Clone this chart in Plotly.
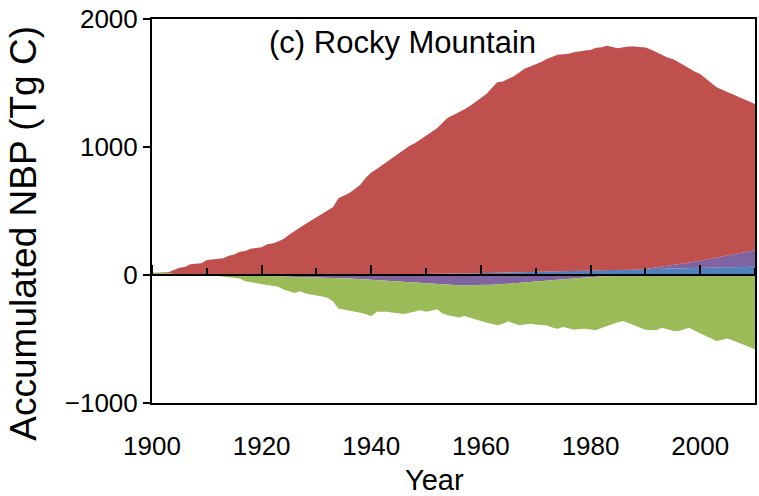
import plotly.graph_objects as go

# Accumulated net biome production contributions, Rocky Mountain region (Tg C)
years = list(range(1900, 2011))

red = [
    0, 0, 0, 7, 32, 54, 62, 84, 88, 91,                      # 1900s
    118, 122, 126, 130, 150, 160, 182, 188, 206, 210,        # 1910s
    216, 240, 246, 262, 281, 315, 346, 372, 398, 425,        # 1920s
    450, 476, 500, 529, 600, 620, 640, 672, 705, 760,        # 1930s
    799, 826, 855, 881, 910, 940, 972, 1004, 1024, 1053,     # 1940s
    1085, 1112, 1137, 1181, 1221, 1240, 1259, 1283, 1307, 1335,  # 1950s
    1365, 1398, 1443, 1488, 1494, 1513, 1533, 1563, 1593, 1607,  # 1960s
    1623, 1642, 1663, 1680, 1695, 1698, 1701, 1712, 1721, 1724,  # 1970s
    1726, 1743, 1747, 1757, 1747, 1734, 1742, 1746, 1743, 1739,  # 1980s
    1732, 1710, 1687, 1657, 1631, 1611, 1582, 1550, 1512, 1486,  # 1990s
    1459, 1416, 1373, 1331, 1305, 1279, 1250, 1224, 1199, 1170,  # 2000s
    1142,
]

green = [
    18, 18, 18, 15, 8, 3, 0, 0, 0, 0,
    -2, -5, -8, -12, -18, -23, -25, -44, -51, -58,
    -65, -72, -77, -82, -102, -116, -127, -113, -130, -136,
    -141, -149, -158, -183, -238, -245, -248, -255, -261, -269,
    -283, -246, -243, -240, -244, -247, -248, -236, -223, -210,
    -220, -207, -194, -223, -236, -242, -252, -239, -254, -265,
    -280, -293, -305, -318, -308, -293, -312, -331, -327, -325,
    -335, -345, -350, -369, -382, -373, -386, -402, -401, -401,
    -410, -419, -404, -390, -380, -367, -358, -375, -393, -410,
    -427, -430, -432, -413, -425, -435, -440, -425, -413, -435,
    -455, -475, -498, -515, -505, -497, -512, -528, -545, -565,
    -580,
]

purple = [
    0, 0, 0, 0, 0, 0, 0, 0, 0, 0,
    0, 0, 0, 0, 0, -2, -3, -4, -5, -6,
    -7, -8, -9, -10, -11, -12, -13, -14, -15, -16,
    -17, -19, -20, -22, -24, -25, -27, -30, -33, -36,
    -39, -42, -45, -48, -51, -53, -56, -59, -62, -65,
    -68, -71, -74, -77, -79, -80, -81, -81, -81, -81,
    -80, -79, -77, -75, -72, -69, -66, -62, -59, -55,
    -51, -48, -45, -41, -37, -33, -29, -25, -21, -18,
    -15, -13, -11, -8, -5, -3, -1, 0, 0, 0,
    1, 6, 10, 15, 20, 26, 32, 38, 44, 50,
    56, 63, 70, 77, 84, 91, 99, 106, 114, 122,
    130,
]

blue = [0] * 40 + [
    1, 2, 3, 4, 5, 5, 6, 6, 7, 7,
    8, 8, 9, 9, 10, 10, 11, 12, 13, 14,
    15, 16, 17, 17, 18, 19, 19, 20, 21, 21,
    22, 23, 24, 25, 26, 27, 27, 28, 29, 30,
    31, 32, 33, 34, 35, 37, 38, 40, 42, 43,
    45, 46, 47, 48, 49, 50, 51, 52, 53, 54,
    55, 56, 57, 58, 59, 60, 61, 62, 62, 63,
    64,
]

x_ticks = list(range(1900, 2001, 20))
y_ticks = [-1000, 0, 1000, 2000]

C_RED, C_GREEN, C_PURPLE, C_BLUE = "#C0504D", "#9BBB59", "#8064A2", "#4F81BD"
FONT = "Liberation Sans, Arial, sans-serif"


def positive(v):
    return [max(a, 0) for a in v]


def negative(v):
    return [min(a, 0) for a in v]


fig = go.Figure()


def area(values, color, group):
    fig.add_trace(go.Scatter(
        x=years, y=values, stackgroup=group, mode="lines",
        line=dict(width=0, color=color), fillcolor=color,
        hoverinfo="skip", showlegend=False,
    ))


# gains stack upward from zero, losses stack downward
area(positive(green), C_GREEN, "gain")
area(positive(blue), C_BLUE, "gain")
area(positive(purple), C_PURPLE, "gain")
area(positive(red), C_RED, "gain")
area(negative(purple), C_PURPLE, "loss")
area(negative(green), C_GREEN, "loss")

# anchor trace for the zero axis carrying the year ticks
fig.add_trace(go.Scatter(
    x=years, y=[0] * len(years), xaxis="x2", mode="lines",
    line=dict(width=0), hoverinfo="skip", showlegend=False,
))

fig.update_layout(
    width=759, height=496,
    margin=dict(l=152, r=2, t=19, b=93),
    paper_bgcolor="white", plot_bgcolor="white",
    font=dict(family=FONT, color="black"),
    xaxis=dict(
        range=[1900, 2010], tickmode="array", tickvals=x_ticks,
        ticks="", ticklabelstandoff=19,
        showline=True, linewidth=2, linecolor="black", mirror=True,
        showgrid=False, zeroline=False,
        tickfont=dict(size=26, family=FONT, color="black"),
    ),
    xaxis2=dict(
        range=[1900, 2010], overlaying="x", anchor="free", position=1 / 3,
        side="top", showticklabels=False,
        tickmode="linear", tick0=1900, dtick=20,
        ticks="outside", ticklen=9, tickwidth=2, tickcolor="black",
        minor=dict(ticks="outside", tick0=1900, dtick=10, ticklen=6,
                   tickwidth=2, tickcolor="black"),
        showline=True, linewidth=2, linecolor="black",
        showgrid=False, zeroline=False,
    ),
    yaxis=dict(
        range=[-1000, 2000], tickmode="array", tickvals=y_ticks,
        ticks="outside", ticklen=7, tickwidth=2, tickcolor="black",
        showline=True, linewidth=2, linecolor="black", mirror=True,
        showgrid=False, zeroline=False,
        tickfont=dict(size=26, family=FONT, color="black"),
    ),
    annotations=[
        dict(text="(c) Rocky Mountain", xref="paper", yref="paper",
             x=0.416, y=0.94, xanchor="center", yanchor="middle",
             showarrow=False, font=dict(size=31, family=FONT, color="black")),
        dict(text="Year", xref="paper", yref="paper",
             x=0.469, y=-0.2005, xanchor="center", yanchor="middle",
             showarrow=False, font=dict(size=29, family=FONT, color="black")),
        dict(text="Accumulated NBP (Tg C)", xref="paper", yref="paper",
             x=-0.2145, y=0.4427, xanchor="center", yanchor="middle",
             textangle=-90, showarrow=False,
             font=dict(size=37, family=FONT, color="black")),
    ],
)

fig.write_html("out.html")
